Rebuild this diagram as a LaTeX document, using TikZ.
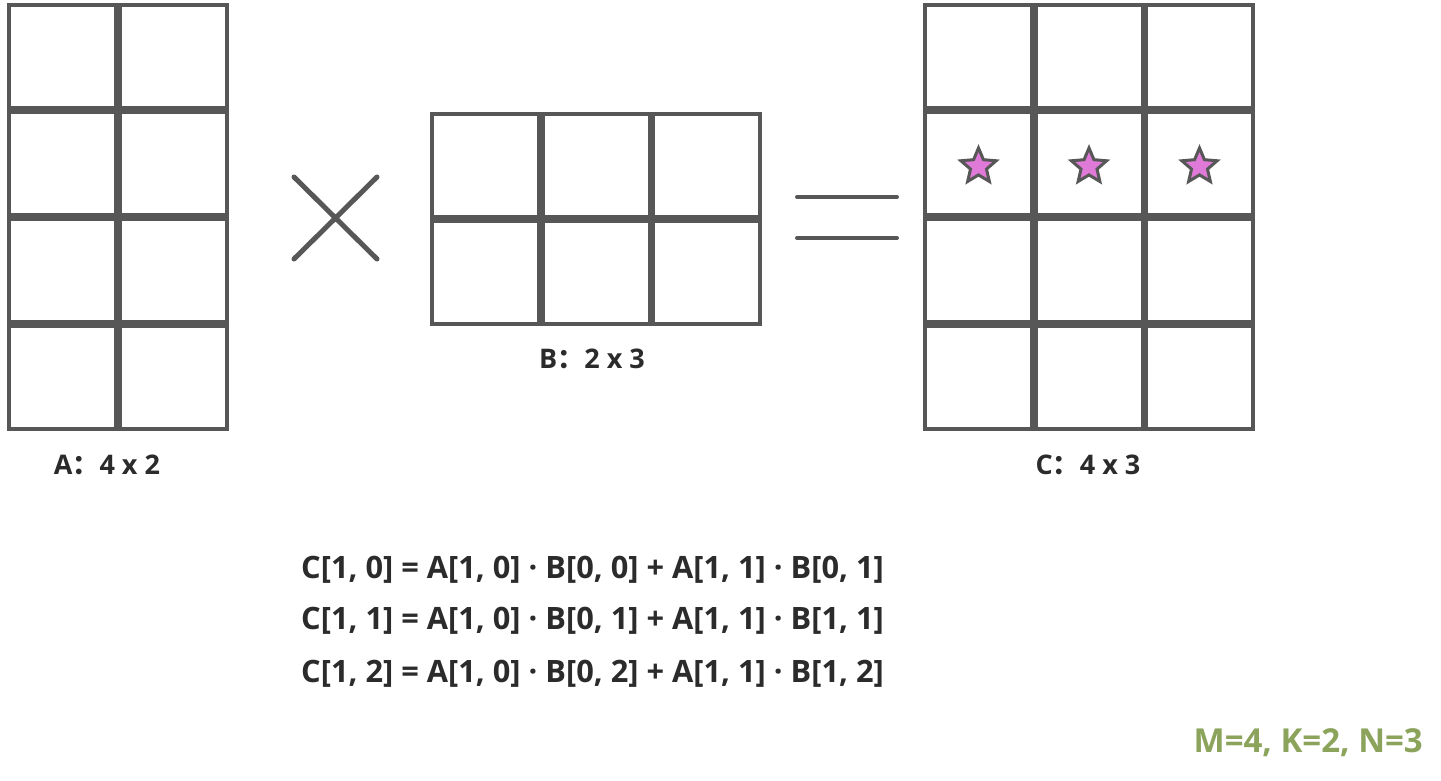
\documentclass[tikz,border=0pt]{standalone}
\usepackage{fontspec}
\setmainfont{Open Sans}
\newfontfamily\cjk{Noto Sans CJK SC}
\usetikzlibrary{shapes.geometric}
\definecolor{GridGray}{HTML}{575757}
\definecolor{StarPink}{HTML}{E07AD8}
\definecolor{TextDark}{HTML}{2B2B2B}
\definecolor{DimGreen}{HTML}{8BA35B}
\newcommand{\fwcolon}{{\cjk\bfseries ：}}

\begin{document}
\begin{tikzpicture}[x=1pt,y=-1pt,
  cell/.style={rectangle,draw=GridGray,line width=4pt,minimum width=107pt,minimum height=103pt,inner sep=0pt},
  starmark/.style={star,star points=5,star point ratio=2.2,draw=GridGray,fill=StarPink,line width=3pt,minimum size=37pt,inner sep=0pt},
  opline/.style={draw=GridGray,line width=5pt,line cap=round},
  dimlabel/.style={font=\bfseries\fontsize{27}{32}\selectfont,text=TextDark,inner sep=0pt},
  formula/.style={font=\bfseries\fontsize{30.8}{36}\selectfont,text=TextDark,anchor=west,inner sep=0pt}]
\useasboundingbox[fill=white] (0,0) rectangle (1441,781);
% matrix A: 4 x 2
\foreach \r in {1,...,4}
  \foreach \c in {1,2}
    \node[cell] (A-\r-\c) at ({62.5+110.5*(\c-1)},{56.5+107*(\r-1)}) {};
% matrix B: 2 x 3
\foreach \r in {1,2}
  \foreach \c in {1,...,3}
    \node[cell] (B-\r-\c) at ({485.5+110.5*(\c-1)},{165.5+107*(\r-1)}) {};
% matrix C: 4 x 3
\foreach \r in {1,...,4}
  \foreach \c in {1,...,3}
    \node[cell] (C-\r-\c) at ({978.5+110.5*(\c-1)},{56.5+107*(\r-1)}) {};
\foreach \c in {1,...,3}
  \node[starmark] (star-\c) at ([yshift=-3pt]C-2-\c) {};
% times and equals
\draw[opline] (294,177) -- (377,259);
\draw[opline] (294,259) -- (377,177);
\draw[opline,line width=4pt] (797,197) -- (897,197);
\draw[opline,line width=4pt] (797,238) -- (897,238);
% shape labels
\node[dimlabel] (labelA) at (107,465) {A\fwcolon 4 x 2};
\node[dimlabel] (labelB) at (592,359) {B\fwcolon 2 x 3};
\node[dimlabel] (labelC) at (1088,465) {C\fwcolon 4 x 3};
% row 1 of C
\node[formula] (eq0) at (301,570) {C[1, 0] = A[1, 0] · B[0, 0] + A[1, 1] · B[0, 1]};
\node[formula] (eq1) at (301,621) {C[1, 1] = A[1, 0] · B[0, 1] + A[1, 1] · B[1, 1]};
\node[formula] (eq2) at (301,674) {C[1, 2] = A[1, 0] · B[0, 2] + A[1, 1] · B[1, 2]};
\node[font=\bfseries\fontsize{33}{38}\selectfont,text=DimGreen,anchor=east,inner sep=0pt] (dims) at (1423,743) {M=4, K=2, N=3};
\end{tikzpicture}
\end{document}
